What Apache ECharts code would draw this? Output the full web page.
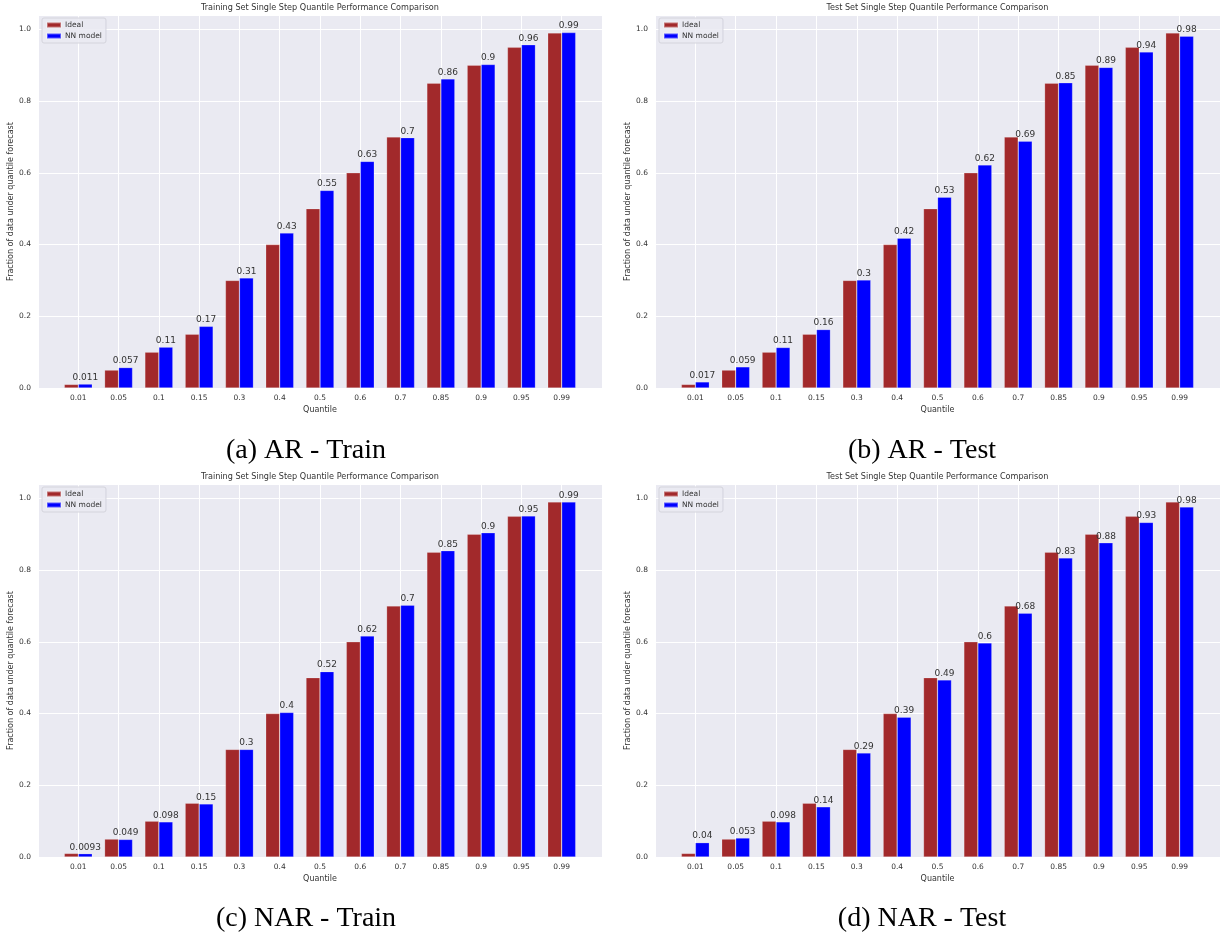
<!DOCTYPE html>
<html>
<head>
<meta charset="utf-8">
<script src="https://cdn.jsdelivr.net/npm/echarts@6/dist/echarts.min.js"></script>
<style>
  html, body { margin: 0; padding: 0; background: #fff; }
  #chart { width: 1224px; height: 938px; }
</style>
</head>
<body>
<div id="chart"></div>
<script>
// quantile categories and the ideal coverage
const quantiles = ['0.01', '0.05', '0.1', '0.15', '0.3', '0.4', '0.5', '0.6', '0.7', '0.85', '0.9', '0.95', '0.99'];
const idealValues = [0.01, 0.05, 0.1, 0.15, 0.3, 0.4, 0.5, 0.6, 0.7, 0.85, 0.9, 0.95, 0.99];

// NN model coverage
const arTrainNN = [0.011, 0.057, 0.114, 0.172, 0.307, 0.432, 0.551, 0.632, 0.698, 0.862, 0.902, 0.957, 0.991];
const arTestNN = [0.017, 0.059, 0.113, 0.163, 0.301, 0.418, 0.532, 0.622, 0.688, 0.851, 0.894, 0.937, 0.981];
const narTrainNN = [0.0093, 0.049, 0.098, 0.148, 0.300, 0.403, 0.517, 0.616, 0.702, 0.854, 0.904, 0.951, 0.990];
const narTestNN = [0.040, 0.053, 0.098, 0.140, 0.290, 0.390, 0.494, 0.597, 0.680, 0.834, 0.876, 0.933, 0.976];

const panelTitles = [
    'Training Set Single Step Quantile Performance Comparison',
    'Test Set Single Step Quantile Performance Comparison',
    'Training Set Single Step Quantile Performance Comparison',
    'Test Set Single Step Quantile Performance Comparison'
];
const captions = ['(a) AR - Train', '(b) AR - Test', '(c) NAR - Train', '(d) NAR - Test'];
const nnSeries = [arTrainNN, arTestNN, narTrainNN, narTestNN];

// panel geometry
const panels = [
    { left: 38, top: 15, width: 564, height: 373, capX: 306, capY: 451 },
    { left: 655, top: 15, width: 565, height: 373, capX: 922, capY: 451 },
    { left: 38, top: 484, width: 564, height: 373, capX: 306, capY: 919 },
    { left: 655, top: 484, width: 565, height: 373, capX: 922, capY: 919 }
];

const FONT = '"DejaVu Sans", sans-serif';
const TEXT = '#333';

function fmt2(v) {
    return String(Number(v.toPrecision(2)));
}

const chart = echarts.init(document.getElementById('chart'));

const grids = [], xAxes = [], yAxes = [], series = [], legends = [], graphics = [];

panels.forEach((p, k) => {
    grids.push({
        left: p.left, top: p.top, width: p.width, height: p.height,
        show: true, backgroundColor: '#eaeaf2', borderWidth: 0
    });
    xAxes.push({
        gridIndex: k,
        type: 'value',
        min: -1, max: 13, interval: 1,
        name: 'Quantile',
        nameLocation: 'middle',
        nameGap: 18,
        nameTextStyle: { fontFamily: FONT, fontSize: 8, color: TEXT },
        axisLine: { show: false },
        axisTick: { show: false },
        axisLabel: {
            fontFamily: FONT, fontSize: 7.5, color: TEXT, margin: 6,
            showMinLabel: true, showMaxLabel: true,
            formatter: v => (v >= 0 && v <= 12) ? quantiles[Math.round(v)] : ''
        },
        splitLine: { show: true, lineStyle: { color: '#fff', width: 1 } }
    });
    yAxes.push({
        gridIndex: k,
        type: 'value',
        min: 0, max: 1.04, interval: 0.2,
        name: 'Fraction of data under quantile forecast',
        nameLocation: 'middle',
        nameRotate: 90,
        nameGap: 22,
        nameTextStyle: { fontFamily: FONT, fontSize: 8, color: TEXT },
        axisLine: { show: false },
        axisTick: { show: false },
        axisLabel: {
            fontFamily: FONT, fontSize: 7.5, color: TEXT, margin: 7,
            formatter: v => v > 1.001 ? '' : v.toFixed(1)
        },
        splitLine: { show: true, lineStyle: { color: '#fff', width: 1 } }
    });
    series.push({
        name: 'Ideal',
        type: 'bar',
        xAxisIndex: k, yAxisIndex: k,
        barWidth: 14, barGap: '0%',
        itemStyle: { color: '#a2292b', borderColor: 'rgba(255,255,255,0.35)', borderWidth: 0.6 },
        data: idealValues.map((v, i) => [i, v])
    });
    series.push({
        name: 'NN model',
        type: 'bar',
        xAxisIndex: k, yAxisIndex: k,
        barWidth: 14, barGap: '0%',
        itemStyle: { color: '#0000ff', borderColor: 'rgba(255,255,255,0.35)', borderWidth: 0.6 },
        label: {
            show: true, position: 'top', distance: 2,
            fontFamily: FONT, fontSize: 9, color: TEXT,
            formatter: prm => fmt2(prm.value[1])
        },
        data: nnSeries[k].map((v, i) => [i, v])
    });
    legends.push({
        left: p.left + 4, top: p.top + 3,
        orient: 'vertical',
        data: ['Ideal', 'NN model'],
        icon: 'rect',
        itemWidth: 14, itemHeight: 5, itemGap: 3,
        padding: [3, 4, 3, 4],
        backgroundColor: 'rgba(234,234,242,0.85)',
        borderColor: '#d4d4dc', borderWidth: 1, borderRadius: 2,
        textStyle: { fontFamily: FONT, fontSize: 7.5, color: TEXT, padding: [0, 0, 0, -1] }
    });
    graphics.push({
        type: 'text',
        x: p.left + p.width / 2, y: p.top - 7,
        style: {
            text: panelTitles[k], font: '9px "DejaVu Sans Condensed", "DejaVu Sans"', fill: TEXT,
            align: 'center', verticalAlign: 'middle'
        }
    });
    graphics.push({
        type: 'text',
        x: p.capX, y: p.capY,
        style: {
            text: captions[k], font: '28px "Liberation Serif"', fill: '#000',
            align: 'center', verticalAlign: 'middle'
        }
    });
});

chart.setOption({
    animation: false,
    grid: grids,
    xAxis: xAxes,
    yAxis: yAxes,
    legend: legends,
    series: series,
    graphic: graphics
});
</script>
</body>
</html>
